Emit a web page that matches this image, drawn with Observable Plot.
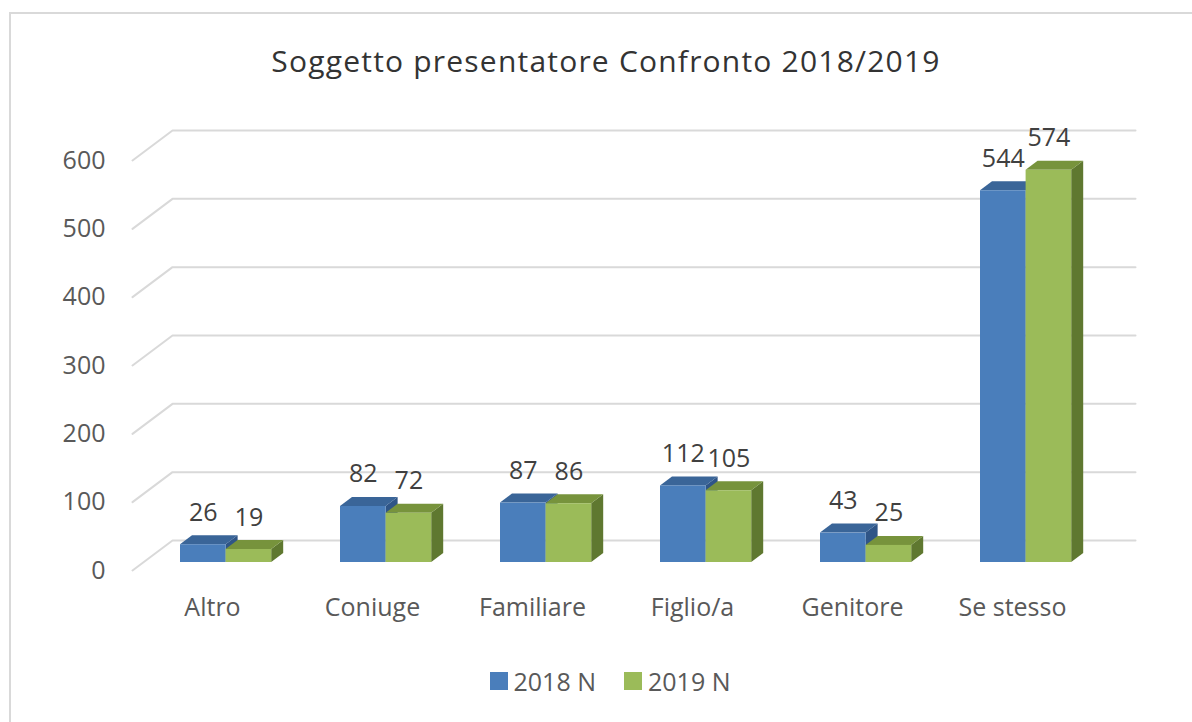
<!DOCTYPE html>
<html>
<head>
<meta charset="utf-8">
<script src="https://cdn.jsdelivr.net/npm/d3@7"></script>
<script src="https://cdn.jsdelivr.net/npm/@observablehq/plot@0.6"></script>
<style>
  html, body { margin: 0; padding: 0; background: #fff; overflow: hidden; }
  #page { position: relative; width: 1192px; height: 722px; overflow: hidden; font-family: "Open Sans", sans-serif; }
  #frame { position: absolute; left: 9px; top: 12px; width: 1200px; height: 720px; border-left: 2px solid #d9d9d9; border-top: 2px solid #d9d9d9; }
  #title { position: absolute; left: 0; width: 1212px; top: 38px; text-align: center; font-size: 30px; letter-spacing: 1.2px; color: #333; line-height: 46px; }
  #chart { position: absolute; left: 0; top: 90px; }
  #legend { position: absolute; left: 0; width: 1220px; top: 662px; display: flex; justify-content: center; gap: 28px; font-size: 25px; color: #595959; line-height: 38px; }
  .item { display: flex; align-items: center; gap: 6px; }
  .sw { width: 18px; height: 18px; display: inline-block; }
</style>
</head>
<body>
<div id="page">
  <div id="frame"></div>
  <div id="title">Soggetto presentatore Confronto 2018/2019</div>
  <div id="chart"></div>
  <div id="legend"></div>
</div>
<script>
// ---- data ----
const categories = ["Altro", "Coniuge", "Familiare", "Figlio/a", "Genitore", "Se stesso"];
const seriesNames = ["2018 N", "2019 N"];
const values2018 = [26, 82, 87, 112, 43, 544];
const values2019 = [19, 72, 86, 105, 25, 574];
const yTicks = [0, 100, 200, 300, 400, 500, 600];

// ---- styles ----
const frontColors = ["#4a7ebb", "#9bbb59"];
const topColors = ["#3a6598", "#77933c"];
const sideColors = ["#2f5587", "#5f7830"];

// ---- layout (pixels) ----
const W = 1192, H = 550, mL = 132, mR = 100, mT = 70, mB = 70;
const yMax = 600;
const kx = (W - mL - mR) / categories.length; // px per category unit
const ky = (H - mT - mB) / yMax;              // px per value unit
const ux = p => p / kx, uy = p => p / ky;
const wall = {x: 40, y: 30};      // depth of the 3D floor
const barFront = {x: 10.7, y: 8}; // where bar fronts sit in depth
const barDepth = {x: 12, y: 9};
const barOffset = 37.3, barWidth = 45.6;

const allValues = [values2018, values2019];
const bars = [];
allValues.forEach((vals, s) => {
  vals.forEach((v, i) => {
    const xl = i + ux(barFront.x + barOffset + s * barWidth);
    const xr = xl + ux(barWidth);
    const y0 = uy(barFront.y);
    bars.push({s, i, v, xl, xr, y0, y1: y0 + v, id: s + "-" + i});
  });
});

const topRows = [], sideRows = [];
for (const b of bars) {
  topRows.push({s: b.s, id: b.id, y: b.y1, x1: b.xl, x2: b.xr});
  topRows.push({s: b.s, id: b.id, y: b.y1 + uy(barDepth.y), x1: b.xl + ux(barDepth.x), x2: b.xr + ux(barDepth.x)});
  sideRows.push({s: b.s, id: b.id, x: b.xr, y1: b.y0, y2: b.y1});
  sideRows.push({s: b.s, id: b.id, x: b.xr + ux(barDepth.x), y1: b.y0 + uy(barDepth.y), y2: b.y1 + uy(barDepth.y)});
}

const gridRows = [];
for (const t of yTicks) {
  gridRows.push({t, x: 0, y: t});
  gridRows.push({t, x: ux(wall.x), y: t + uy(wall.y)});
  gridRows.push({t, x: categories.length + ux(wall.x + 3), y: t + uy(wall.y)});
}

const marks = [
  Plot.line(gridRows, {x: "x", y: "y", z: "t", stroke: "#d9d9d9", strokeWidth: 2})
];
for (let s = 0; s < 2; s++) {
  marks.push(Plot.areaY(sideRows.filter(d => d.s === s), {x: "x", y1: "y1", y2: "y2", z: "id", fill: sideColors[s]}));
  marks.push(Plot.areaX(topRows.filter(d => d.s === s), {y: "y", x1: "x1", x2: "x2", z: "id", fill: topColors[s]}));
  marks.push(Plot.rect(bars.filter(d => d.s === s), {x1: "xl", x2: "xr", y1: "y0", y2: "y1", fill: frontColors[s]}));
}
marks.push(Plot.text(bars, {
  x: d => (d.xl + d.xr) / 2, y: d => d.y1 + uy(barDepth.y), text: d => String(d.v),
  lineAnchor: "bottom", dy: -15, fontSize: 25, fill: "#404040"
}));
marks.push(Plot.text(categories, {
  x: (d, i) => i + 0.5, y: () => 0, text: d => d, dy: 37, fontSize: 25, fill: "#595959"
}));
marks.push(Plot.text(yTicks, {
  x: () => 0, y: d => d, text: d => String(d), dx: -27, textAnchor: "end", fontSize: 25, fill: "#595959"
}));

const chart = Plot.plot({
  width: W, height: H,
  marginLeft: mL, marginRight: mR, marginTop: mT, marginBottom: mB,
  x: {type: "linear", domain: [0, categories.length], axis: null},
  y: {type: "linear", domain: [0, yMax], axis: null},
  style: {fontFamily: "Open Sans", background: "transparent", overflow: "visible"},
  marks
});
document.getElementById("chart").appendChild(chart);

const legend = document.getElementById("legend");
seriesNames.forEach((n, s) => {
  const it = document.createElement("div");
  it.className = "item";
  const sw = document.createElement("span");
  sw.className = "sw";
  sw.style.background = frontColors[s];
  const tx = document.createElement("span");
  tx.textContent = n;
  it.appendChild(sw); it.appendChild(tx);
  legend.appendChild(it);
});
</script>
</body>
</html>
